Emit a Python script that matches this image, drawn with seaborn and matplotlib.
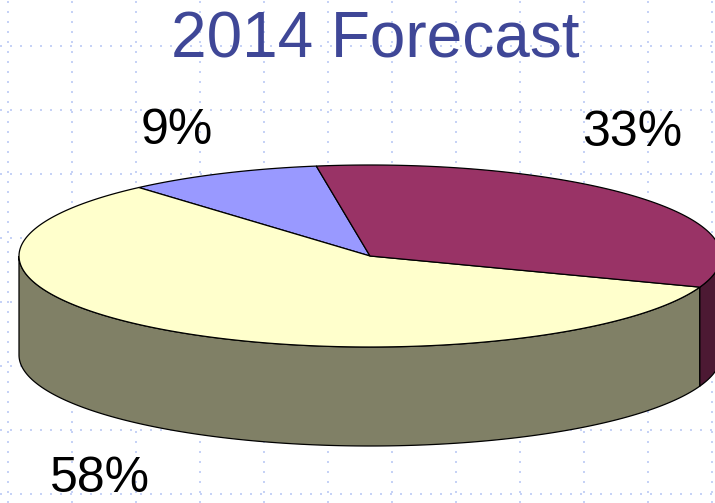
import numpy as np
import matplotlib
matplotlib.use("Agg")
import matplotlib.pyplot as plt
from matplotlib.patches import Polygon
import seaborn as sns

# Forecast shares (percent), drawn counter-clockwise starting at the top
segments = ["Segment B", "Segment C", "Segment A"]
shares = [9, 58, 33]
top_colors = ["#9999FF", "#FFFFCC", "#993366"]
side_colors = ["#4C4C80", "#808066", "#4C1933"]
title = "2014 Forecast"

sns.set_theme(style="white")
plt.rcParams["font.family"] = ["Liberation Sans", "DejaVu Sans"]

W, H = 715, 503
fig = plt.figure(figsize=(W / 100, H / 100), dpi=100)
ax = fig.add_axes([0, 0, 1, 1])
ax.set_xlim(0, W)
ax.set_ylim(H, 0)

# dotted background grid
ax.set_xticks(np.arange(8, W, 64))
ax.set_yticks(np.arange(46, H, 64))
ax.tick_params(length=0, labelbottom=False, labelleft=False)
for s in ax.spines.values():
    s.set_visible(False)
ax.grid(True, color="#c6d2f6", linewidth=1.44, linestyle=(0, (1, 4)))
ax.set_axisbelow(True)

# 3-D pie geometry (screen pixels)
cx, cy = 370, 256
rx, ry = 351, 91
depth = 99
start = 98.8


def arc(t0, t1, n=200):
    t = np.radians(np.linspace(t0, t1, n))
    return cx + rx * np.cos(t), cy - ry * np.sin(t)


bounds = []
a0 = start
for v in shares:
    a1 = a0 + v / sum(shares) * 360
    bounds.append((a0, a1))
    a0 = a1

# side walls: only the front half (180..360 deg) is visible
for (t0, t1), sc in zip(bounds, side_colors):
    spans = {(max(t0 + k, 180), min(t1 + k, 360)) for k in (-360, 0, 360)}
    for lo, hi in spans:
        if hi > lo:
            x, y = arc(lo, hi)
            pts = np.column_stack([np.r_[x, x[::-1]], np.r_[y, y[::-1] + depth]])
            ax.add_patch(Polygon(pts, closed=True, facecolor=sc,
                                 edgecolor="black", linewidth=0.9, zorder=2))

# top faces
for (t0, t1), tc in zip(bounds, top_colors):
    x, y = arc(t0, t1)
    pts = np.column_stack([np.r_[cx, x], np.r_[cy, y]])
    ax.add_patch(Polygon(pts, closed=True, facecolor=tc, edgecolor="black",
                         linewidth=0.9, zorder=3))

# percentage labels
label_pos = [(177, 144), (100, 492), (632, 146)]
for v, (lx, ly) in zip(shares, label_pos):
    ax.text(lx, ly, f"{v}%", fontsize=36, color="black", ha="center",
            va="baseline", zorder=5)

ax.text(375, 57, title, fontsize=46, color="#3f4797", ha="center", va="baseline",
        family=["Liberation Sans Narrow", "Liberation Sans", "DejaVu Sans"], zorder=5)

fig.savefig("out.png", dpi=100)
